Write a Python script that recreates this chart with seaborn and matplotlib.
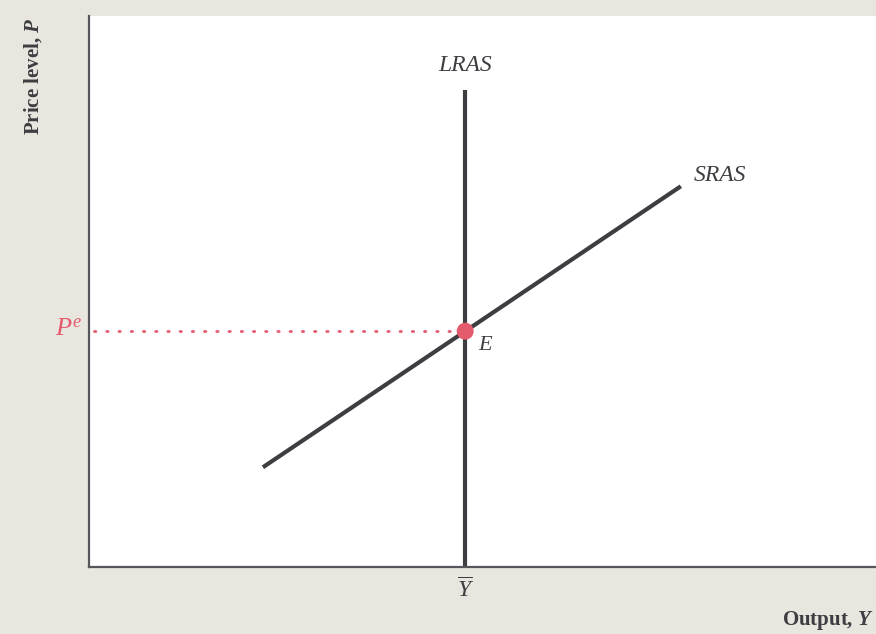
import matplotlib
matplotlib.use("Agg")
import matplotlib.pyplot as plt
import seaborn as sns

# Aggregate supply model values (abstract units)
y_bar = 47.8          # potential output
p_e = 42.8            # expected price level
lras_x = [y_bar, y_bar]
lras_y = [0.0, 86.6]
sras_x = [22.1, 75.2]
sras_y = [18.1, 69.1]
pe_line_x = [0.6, y_bar]
pe_line_y = [p_e, p_e]

curve_names = ["LRAS", "SRAS"]
point_name = "E"
x_label = "Output, "
y_label = "Price level, "

sns.set_theme(style="white")
plt.rcParams["font.family"] = ["Liberation Serif", "DejaVu Serif"]
plt.rcParams["mathtext.fontset"] = "custom"
plt.rcParams["mathtext.rm"] = "Liberation Serif"
plt.rcParams["mathtext.it"] = "Liberation Serif:italic"
plt.rcParams["mathtext.bf"] = "Liberation Serif:bold"
plt.rcParams["mathtext.bfit"] = "Liberation Serif:bold:italic"

bg = "#e8e6de"
ink = "#3d3d42"
red = "#e55b6e"

fig = plt.figure(figsize=(8.76, 6.34), dpi=100, facecolor=bg)
ax = fig.add_axes([89 / 876, (634 - 567) / 634, (876 - 89) / 876, (567 - 16) / 634])
ax.set_facecolor("white")

sns.lineplot(x=lras_x, y=lras_y, ax=ax, color=ink, lw=3.0,
             estimator=None, sort=False, solid_capstyle="butt")
sns.lineplot(x=sras_x, y=sras_y, ax=ax, color=ink, lw=3.0,
             estimator=None, sort=False, solid_capstyle="butt")
sns.lineplot(x=pe_line_x, y=pe_line_y, ax=ax, color=red, lw=2.0,
             estimator=None, sort=False, dashes=False,
             linestyle=(0, (0.5, 3.9)), dash_capstyle="round")
sns.scatterplot(x=[y_bar], y=[p_e], ax=ax, color=red, s=150,
                edgecolor="none", zorder=5)

ax.set_xlim(0, 100)
ax.set_ylim(0, 100)
ax.set_xticks([])
ax.set_yticks([])
for side in ("top", "right"):
    ax.spines[side].set_visible(False)
for side in ("left", "bottom"):
    ax.spines[side].set_color("#55555c")
    ax.spines[side].set_linewidth(1.6)

lab_kw = dict(color=ink, fontsize=17, style="italic")
ax.text(y_bar, 91.1, curve_names[0], ha="center", va="center", **lab_kw)
ax.text(80.2, 71.0, curve_names[1], ha="center", va="center", **lab_kw)
ax.text(50.3, 40.2, point_name, ha="center", va="center",
        color=ink, fontsize=16, style="italic")

ax.text(-0.8, p_e + 0.3, r"$P^e$", ha="right", va="center", color=red,
        fontsize=19, clip_on=False)
ax.text(y_bar, -4.3, r"$\overline{Y}$", ha="center", va="center",
        color=ink, fontsize=17, clip_on=False)

fig.text(0.998, (634 - 620) / 634, x_label + r"$\mathbfit{Y}$",
         ha="right", va="center", color=ink, fontsize=15, fontweight="bold")
fig.text(33 / 876, 1 - 18 / 634, y_label + r"$\mathbfit{P}$",
         ha="center", va="top", rotation=90, color=ink, fontsize=15,
         fontweight="bold")

fig.savefig("out.png", dpi=100, facecolor=bg)
